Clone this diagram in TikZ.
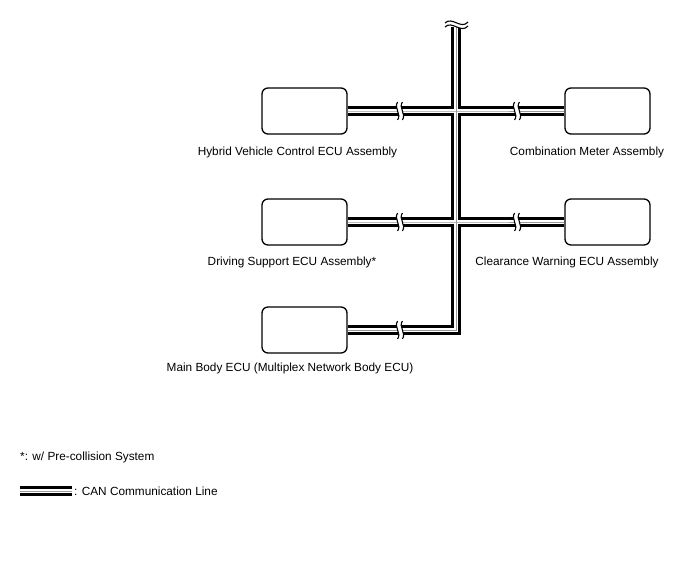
\documentclass[tikz,border=0pt]{standalone}
\usepackage{fontspec}
\setmainfont{Liberation Sans}
\usetikzlibrary{positioning}

\begin{document}
\begin{tikzpicture}[
  x=1pt, y=-1pt,
  font=\fontsize{11.8}{14}\selectfont,
  ecu/.style={draw, line width=1.3pt, rounded corners=6pt, fill=white,
              minimum width=85pt, minimum height=46pt, inner sep=0pt},
  lab/.style={inner sep=0pt},
  canout/.style={line width=9.6pt, black, line join=miter},
  canin/.style={line width=4.8pt, white, line join=miter},
  canmid/.style={line width=1pt, black!40, line join=miter}
]
\useasboundingbox (0,0) rectangle (688,560);

% ECU boxes
\node[ecu] (hv) at (304.5,111) {};
\node[ecu] (cm) at (607.5,111) {};
\node[ecu] (ds) at (304.5,222) {};
\node[ecu] (cw) at (607.5,222) {};
\node[ecu] (mb) at (304.5,330) {};

\node[lab] (hvl) at (297.5,152) {Hybrid Vehicle Control ECU Assembly};
\node[lab] (cml) at (587,152) {Combination Meter Assembly};
\node[lab] (dsl) at (292,262) {Driving Support ECU Assembly*};
\node[lab] (cwl) at (567,262) {Clearance Warning ECU Assembly};
\node[lab] (mbl) at (290,368) {Main Body ECU (Multiplex Network Body ECU)};

% bus points
\coordinate (top) at (456,27);
\coordinate (j1) at (456,111);
\coordinate (j2) at (456,222);
\coordinate (j3) at (456,330);
\coordinate (lg1) at (20,491);
\coordinate (lg2) at (72,491);

% CAN lines: black, then white, then grey core
\foreach \sty in {canout,canin,canmid} {
  \draw[\sty] (top) -- (j3) -- (mb.east);
  \draw[\sty] (hv.east) -- (j1) -- (cm.west);
  \draw[\sty] (ds.east) -- (j2) -- (cw.west);
  \draw[\sty] (lg1) -- (lg2);
}

% line breaks
\foreach \bx/\by in {400/111, 517/111, 400/222, 517/222, 400/330} {
  \fill[white] (\bx-2.4,\by-9) .. controls (\bx-6.6,\by-3) and (\bx+1.8,\by+3) .. (\bx-2.4,\by+9)
    -- (\bx+2.4,\by+9) .. controls (\bx+6.6,\by+3) and (\bx-1.8,\by-3) .. (\bx+2.4,\by-9) -- cycle;
  \draw[line width=1.1pt] (\bx-2.4,\by-9) .. controls (\bx-6.6,\by-3) and (\bx+1.8,\by+3) .. (\bx-2.4,\by+9);
  \draw[line width=1.1pt] (\bx+2.4,\by-9) .. controls (\bx-1.8,\by-3) and (\bx+6.6,\by+3) .. (\bx+2.4,\by+9);
}

% top break
\fill[white] (445,23) .. controls (452,16) and (461,30) .. (468,22)
  -- (468,26) .. controls (461,34) and (452,20) .. (445,27) -- cycle;
\draw[line width=1.1pt] (445,23) .. controls (452,16) and (461,30) .. (468,22);
\draw[line width=1.1pt] (445,27) .. controls (452,20) and (461,34) .. (468,26);

% notes
\node[lab, anchor=west] (note) at (20,457) {*: w/ Pre-collision System};
\node[lab, anchor=west] (lgt) at (74,491) {: CAN Communication Line};
\end{tikzpicture}
\end{document}
